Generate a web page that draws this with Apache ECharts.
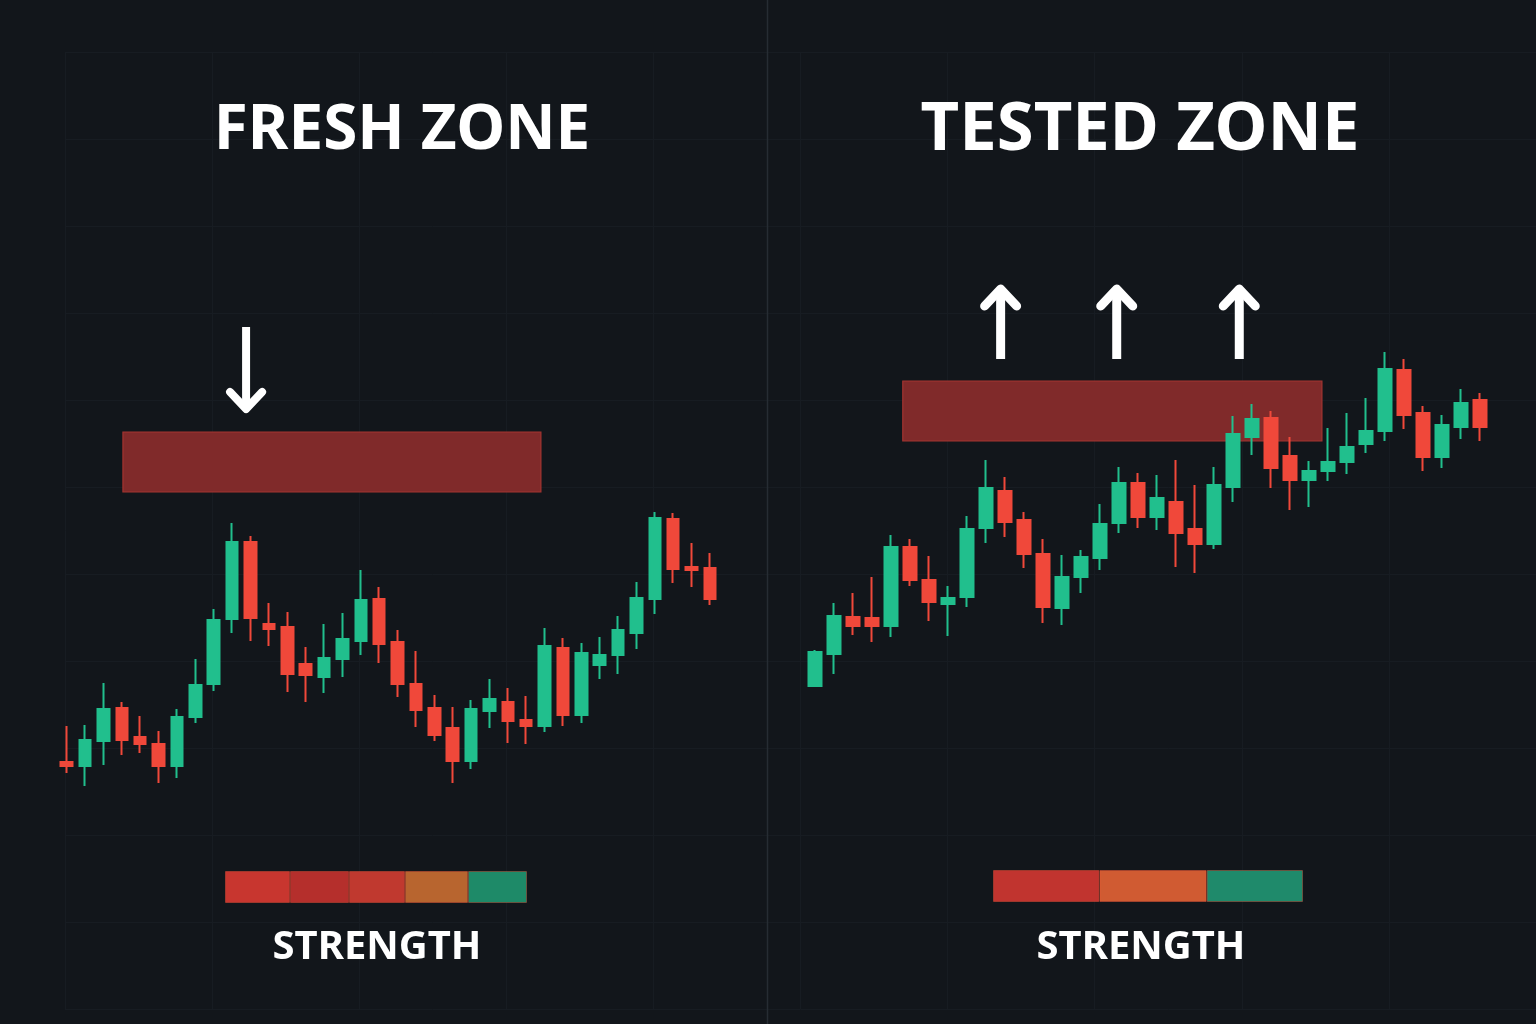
<!DOCTYPE html>
<html>
<head>
<meta charset="utf-8">
<script src="https://cdn.jsdelivr.net/npm/echarts@6/dist/echarts.min.js"></script>
<style>
html,body{margin:0;padding:0;background:#12161b;}
#chart{width:1536px;height:1024px;}
</style>
</head>
<body>
<div id="chart"></div>
<script>
// ---------- DATA ----------
const titleLeft = 'FRESH ZONE';
const titleRight = 'TESTED ZONE';
const strengthLabel = 'STRENGTH';

// candles: [open, close, low, high]
const freshCandles = [
  [38,34,27,74],[34,60,14,75],[59,91,35,117],[92,60,45,98],[63,56,47,84],[56,34,17,69],
  [34,83,22,91],[83,115,77,141],[116,180,109,191],[181,258,167,277],[258,182,159,264],[176,171,154,197],
  [173,126,108,188],[136,125,98,153],[123,142,107,176],[141,161,123,187],[159,200,145,230],[201,156,137,213],
  [158,116,103,170],[116,90,73,149],[92,65,59,105],[72,39,17,93],[39,91,31,100],[89,101,72,121],
  [98,79,57,112],[80,74,56,104],[74,154,68,172],[152,85,74,162],[85,147,77,157],[135,145,121,163],
  [145,170,126,184],[167,202,151,218],[201,282,186,288],[281,231,217,287],[233,230,213,257],[232,201,195,247]
];
const testedCandles = [
  [114,148,113,150],[146,184,126,197],[183,174,165,207],[182,174,158,223],[174,253,163,265],[253,220,214,261],
  [220,198,179,244],[196,202,164,214],[203,271,193,284],[272,312,257,340],[309,278,263,323],[280,246,232,288],
  [246,193,177,261],[192,223,175,245],[223,243,207,250],[242,276,230,296],[277,317,267,333],[317,283,272,327],
  [283,302,270,325],[298,267,233,340],[271,256,227,315],[256,315,251,333],[313,366,298,384],[363,381,345,396],
  [382,332,312,389],[344,320,290,363],[320,329,293,339],[329,338,319,372],[338,353,326,387],[356,369,347,402],
  [369,431,359,448],[430,385,371,441],[387,343,329,394],[343,375,332,385],[373,397,361,411],[400,373,359,407]
];

// zones: [xStart, priceLow, xEnd, priceHigh] (x in candle-index units)
const freshZone = [[3.06, 308, 25.8, 368]];
const testedZone = [[4.62, 359, 26.68, 419]];

// arrows: [x index, tail price, tip price]
const freshArrows = [[9.76, 473, 391]];
const testedArrows = [[9.77, 441, 511], [15.88, 441, 511], [22.33, 441, 511]];

// strength meters
const freshStrength = [65, 59, 56, 63, 59];
const freshStrengthColors = ['#c8362f', '#b52f2c', '#c0392f', '#b8652f', '#1e8a68'];
const testedStrength = [106, 107, 96];
const testedStrengthColors = ['#c1342f', '#d05b32', '#1f8a6b'];

// ---------- CHART ----------
const UP = '#21bf8d', DOWN = '#f0483a';
const FONT = '"Noto Sans", "Open Sans", sans-serif';

const cats = n => Array.from({length: n}, (_, i) => String(i));

function zoneRender(params, api) {
  const p0 = api.coord([api.value(0), api.value(3)]);
  const p1 = api.coord([api.value(2), api.value(1)]);
  return {
    type: 'rect',
    shape: {x: p0[0], y: p0[1], width: p1[0] - p0[0], height: p1[1] - p0[1]},
    style: {fill: '#802a2a', stroke: '#a33430', lineWidth: 1.2}
  };
}
function arrowRender(lw) {
  return function (params, api) {
    const tail = api.coord([api.value(0), api.value(1)]);
    const tip = api.coord([api.value(0), api.value(2)]);
    const dir = tip[1] > tail[1] ? 1 : -1;
    const wing = 17, half = 16;
    return {
      type: 'group',
      children: [
        {type: 'line', shape: {x1: tail[0], y1: tail[1], x2: tip[0], y2: tip[1] - dir * 2},
         style: {stroke: '#ffffff', lineWidth: lw, lineCap: 'butt'}},
        {type: 'polyline', shape: {points: [[tip[0] - half, tip[1] - dir * wing], [tip[0], tip[1]], [tip[0] + half, tip[1] - dir * wing]]},
         style: {stroke: '#ffffff', fill: null, lineWidth: lw, lineCap: 'round', lineJoin: 'round'}}
      ]
    };
  };
}

function strengthSeries(values, colors, xi, yi, stack) {
  return values.map((v, i) => ({
    type: 'bar', stack: stack, xAxisIndex: xi, yAxisIndex: yi,
    data: [v], barWidth: '100%', silent: true,
    itemStyle: {color: colors[i], borderColor: 'rgba(255,90,60,0.35)', borderWidth: 1}
  }));
}

const hidden = {show: false};
const option = {
  backgroundColor: '#12161b',
  animation: false,
  grid: [
    {left: 65, top: 52, width: 1530, height: 957},
    {left: 57.5, top: 250, width: 661.7, height: 550},
    {left: 805.5, top: 250, width: 684, height: 550},
    {left: 225, top: 871, width: 302, height: 32},
    {left: 993, top: 870, width: 310, height: 32}
  ],
  xAxis: [
    {gridIndex: 0, type: 'value', min: 0, max: 10, interval: 1, axisLine: hidden, axisTick: hidden, axisLabel: hidden,
     splitLine: {show: true, lineStyle: {color: '#171c22', width: 1}}},
    {gridIndex: 1, type: 'category', data: cats(36), show: false},
    {gridIndex: 1, type: 'value', min: -0.5, max: 35.5, show: false},
    {gridIndex: 2, type: 'category', data: cats(36), show: false},
    {gridIndex: 2, type: 'value', min: -0.5, max: 35.5, show: false},
    {gridIndex: 3, type: 'value', min: 0, max: 302, show: false},
    {gridIndex: 4, type: 'value', min: 0, max: 309, show: false}
  ],
  yAxis: [
    {gridIndex: 0, type: 'value', min: 0, max: 11, interval: 1, axisLine: hidden, axisTick: hidden, axisLabel: hidden,
     splitLine: {show: true, lineStyle: {color: '#171c22', width: 1}}},
    {gridIndex: 1, type: 'value', min: 0, max: 550, show: false},
    {gridIndex: 2, type: 'value', min: 0, max: 550, show: false},
    {gridIndex: 3, type: 'category', data: ['s'], show: false},
    {gridIndex: 4, type: 'category', data: ['s'], show: false}
  ],
  graphic: [
    {type: 'line', shape: {x1: 767.5, y1: 0, x2: 767.5, y2: 1024}, style: {stroke: '#262c33', lineWidth: 1.5}, z: 5},
    {type: 'text', x: 402, y: 131, style: {text: titleLeft, fill: '#ffffff', font: '700 62px ' + FONT, align: 'center', verticalAlign: 'middle'}, z: 10},
    {type: 'text', x: 1140, y: 131, style: {text: titleRight, fill: '#ffffff', font: '700 67px ' + FONT, align: 'center', verticalAlign: 'middle'}, z: 10},
    {type: 'text', x: 377, y: 948, style: {text: strengthLabel, fill: '#ffffff', font: '700 40px ' + FONT, align: 'center', verticalAlign: 'middle'}, z: 10},
    {type: 'text', x: 1141, y: 948, style: {text: strengthLabel, fill: '#ffffff', font: '700 40px ' + FONT, align: 'center', verticalAlign: 'middle'}, z: 10}
  ],
  series: [
    {type: 'custom', xAxisIndex: 2, yAxisIndex: 1, renderItem: zoneRender, data: freshZone, z: 1, silent: true,
     encode: {x: [0, 2], y: [1, 3]}},
    {type: 'custom', xAxisIndex: 4, yAxisIndex: 2, renderItem: zoneRender, data: testedZone, z: 1, silent: true,
     encode: {x: [0, 2], y: [1, 3]}},
    {type: 'candlestick', xAxisIndex: 1, yAxisIndex: 1, data: freshCandles, barWidth: 12, z: 3,
     itemStyle: {color: UP, color0: DOWN, borderColor: UP, borderColor0: DOWN, borderWidth: 2}},
    {type: 'candlestick', xAxisIndex: 3, yAxisIndex: 2, data: testedCandles, barWidth: 13, z: 3,
     itemStyle: {color: UP, color0: DOWN, borderColor: UP, borderColor0: DOWN, borderWidth: 2}},
    {type: 'custom', xAxisIndex: 2, yAxisIndex: 1, renderItem: arrowRender(8), data: freshArrows, z: 4, silent: true,
     encode: {x: 0, y: [1, 2]}},
    {type: 'custom', xAxisIndex: 4, yAxisIndex: 2, renderItem: arrowRender(9), data: testedArrows, z: 4, silent: true,
     encode: {x: 0, y: [1, 2]}}
  ]
    .concat(strengthSeries(freshStrength, freshStrengthColors, 5, 3, 'f'))
    .concat(strengthSeries(testedStrength, testedStrengthColors, 6, 4, 't'))
};

const chart = echarts.init(document.getElementById('chart'), null, {renderer: 'canvas'});
chart.setOption(option);
</script>
</body>
</html>
